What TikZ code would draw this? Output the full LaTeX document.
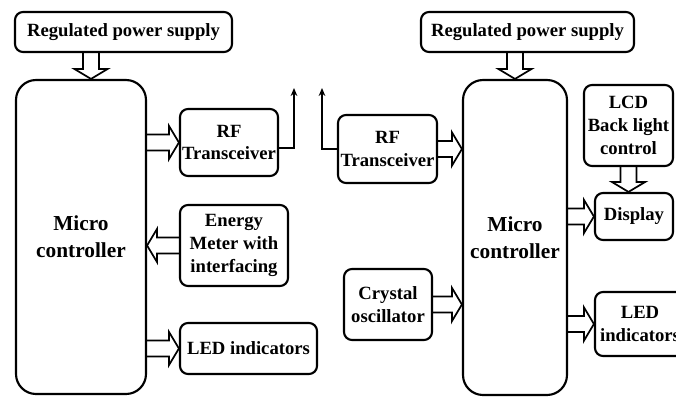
\documentclass[tikz,border=0pt]{standalone}
\usepackage{fontspec}
\setmainfont{Liberation Serif}
\usetikzlibrary{calc,arrows.meta}

\begin{document}
\begin{tikzpicture}[x=0.75pt, y=-0.75pt,
  blk/.style={draw, line width=1.6pt, rounded corners=6pt, align=center, inner sep=0pt,
    font=\fontsize{14}{17}\selectfont\bfseries},
  mcu/.style={blk, rounded corners=15pt, font=\fontsize{16}{20}\selectfont\bfseries},
  fat/.style={line width=1.3pt, line join=miter, to path={
    ($(\tikztostart)!6pt!90:(\tikztotarget)$)
    -- ($(\tikztotarget)!9.6pt!-38.66:(\tikztostart)$)
    -- ($(\tikztotarget)!14.58pt!-59.04:(\tikztostart)$)
    -- (\tikztotarget)
    -- ($(\tikztotarget)!14.58pt!59.04:(\tikztostart)$)
    -- ($(\tikztotarget)!9.6pt!38.66:(\tikztostart)$)
    -- ($(\tikztostart)!6pt!-90:(\tikztotarget)$)}},
  ant/.style={line width=1.2pt, -{Stealth[length=6pt, width=5pt]}}]
  \useasboundingbox (0,0) rectangle (676,397);

  % Sender side
  \node[blk, minimum width=162.75pt, minimum height=30pt] (pwL) at (123.5,32) {Regulated power supply};
  \node[mcu, minimum width=97.5pt, minimum height=235.5pt] (mcL) at (81,237) {Micro\\controller};
  \node[blk, minimum width=73.5pt, minimum height=50.25pt] (rfL) at (229,142.5) {RF\\Transceiver};
  \node[blk, minimum width=81pt, minimum height=60.75pt] (enL) at (234,245.5) {Energy\\Meter with\\interfacing};
  \node[blk, minimum width=102.75pt, minimum height=38.25pt] (ledL) at (248.5,348.5) {LED indicators};

  % Receiver side
  \node[blk, minimum width=159.75pt, minimum height=30pt] (pwR) at (527.5,32) {Regulated power supply};
  \node[mcu, minimum width=78pt, minimum height=236.25pt] (mcR) at (515,237.5) {Micro\\controller};
  \node[blk, minimum width=74.25pt, minimum height=51pt] (rfR) at (387.5,149) {RF\\Transceiver};
  \node[blk, minimum width=66.75pt, minimum height=60.75pt] (lcd) at (628.5,125.5) {LCD\\Back light\\control};
  \node[blk, minimum width=58.5pt, minimum height=35.25pt] (disp) at (634,216.5) {Display};
  \node[blk, minimum width=66pt, minimum height=53.25pt] (xtal) at (388,304.5) {Crystal\\oscillator};
  \node[blk, minimum width=67.5pt, minimum height=48pt] (ledR) at (640,324) {LED\\indicators};

  % Antennas
  \coordinate (antL) at (294,88);
  \coordinate (antR) at (322,88);
  \coordinate (pL) at ([xshift=7.5pt]mcL.north);

  % Block arrows
  \draw[fat] (pwL.south -| pL) to (pL);
  \draw[fat] (mcL.east |- rfL.west) to (rfL.west);
  \draw[fat] (enL.west) to (mcL.east |- enL.west);
  \draw[fat] (mcL.east |- ledL.west) to (ledL.west);
  \draw[fat] (pwR.south -| mcR.north) to (mcR.north);
  \draw[fat] (rfR.east) to (mcR.west |- rfR.east);
  \draw[fat] (xtal.east) to (mcR.west |- xtal.east);
  \draw[fat] (mcR.east |- disp.west) to (disp.west);
  \draw[fat] (mcR.east |- ledR.west) to (ledR.west);
  \draw[fat] (lcd.south) to (lcd.south |- disp.north);

  \draw[ant] ([yshift=-4pt]rfL.east) -| (antL);
  \draw[ant] (rfR.west) -| (antR);
\end{tikzpicture}
\end{document}
